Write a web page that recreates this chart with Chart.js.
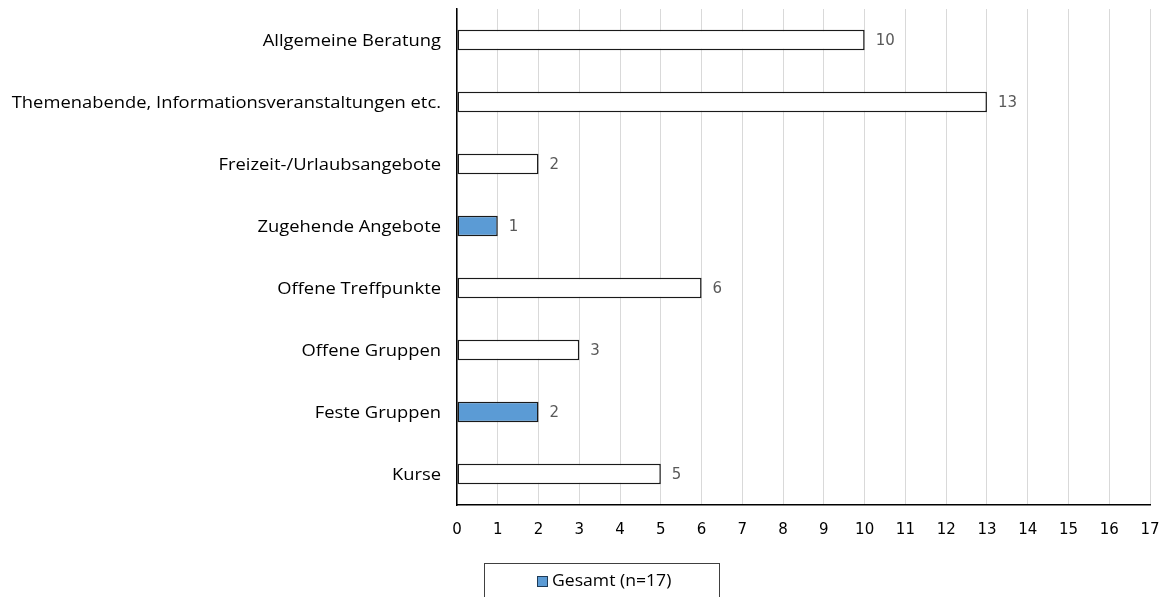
<!DOCTYPE html>
<html>
<head>
<meta charset="utf-8">
<script src="https://cdn.jsdelivr.net/npm/chart.js@4/dist/chart.umd.min.js"></script>
<style>
  html, body { margin: 0; padding: 0; background: #fff; }
  #wrap { position: relative; width: 1162px; height: 597px; overflow: hidden; }
  #legend {
    position: absolute; left: 484px; top: 563px; width: 236px; height: 40px;
    border: 1px solid #404040; box-sizing: border-box;
    font: 16px "Open Sans", sans-serif; color: #000;
    padding: 5px 0 0 52px; white-space: nowrap;
  }
  #legend .sw { display: inline-block; width: 11px; height: 11px; background: #5B9BD5;
    border: 1px solid #1f3b57; margin-right: 4px; box-sizing: border-box; vertical-align: -1px; }
  #legend .tx { display: inline-block; transform: scaleX(1.1); transform-origin: left center; }
</style>
</head>
<body>
<div id="wrap">
  <canvas id="c" width="1162" height="597"></canvas>
  <div id="legend"><span class="sw"></span><span class="tx" id="legendText"></span></div>
</div>
<script>
// Angebotsformen und Anzahl der Nennungen
const categories = [
  "Allgemeine Beratung",
  "Themenabende, Informationsveranstaltungen etc.",
  "Freizeit-/Urlaubsangebote",
  "Zugehende Angebote",
  "Offene Treffpunkte",
  "Offene Gruppen",
  "Feste Gruppen",
  "Kurse"
];
const values = [10, 13, 2, 1, 6, 3, 2, 5];
const seriesName = "Gesamt (n=17)";
const xTicks = [0, 1, 2, 3, 4, 5, 6, 7, 8, 9, 10, 11, 12, 13, 14, 15, 16, 17];
// categories shown with the series fill; the rest are drawn hollow
const filledCategories = ["Zugehende Angebote", "Feste Gruppen"];

document.getElementById("legendText").textContent = seriesName;

const LABEL_FONT = "17px 'Open Sans', sans-serif";
const NUM_FONT = "15px 'DejaVu Sans', sans-serif";

// text drawn slightly widened horizontally
function drawWide(ctx, text, x, y, align, sx) {
  ctx.save();
  ctx.translate(x, y);
  ctx.scale(sx, 1);
  ctx.textAlign = align;
  ctx.textBaseline = "middle";
  ctx.fillText(text, 0, 0);
  ctx.restore();
}

const labelsPlugin = {
  id: "labelsPlugin",
  afterDraw(chart) {
    const ctx = chart.ctx;
    const yScale = chart.scales.y;
    const xScale = chart.scales.x;
    const area = chart.chartArea;

    // category names, right-aligned against the axis
    ctx.save();
    ctx.font = LABEL_FONT;
    ctx.fillStyle = "#000";
    chart.data.labels.forEach((lab, i) => {
      drawWide(ctx, lab, area.left - 16, yScale.getPixelForValue(i) + 1, "right", 1.08);
    });
    ctx.restore();

    // value axis numbers
    ctx.save();
    ctx.font = NUM_FONT;
    ctx.fillStyle = "#000";
    xTicks.forEach((v) => {
      drawWide(ctx, String(v), xScale.getPixelForValue(v), area.bottom + 25, "center", 1);
    });
    ctx.restore();

    // bar values
    ctx.save();
    ctx.font = NUM_FONT;
    ctx.fillStyle = "#595959";
    const meta = chart.getDatasetMeta(0);
    meta.data.forEach((bar, i) => {
      drawWide(ctx, String(chart.data.datasets[0].data[i]), bar.x + 11, bar.y + 1, "left", 1);
    });
    ctx.restore();
  }
};

new Chart(document.getElementById("c"), {
  type: "bar",
  data: {
    labels: categories,
    datasets: [{
      label: seriesName,
      data: values,
      backgroundColor: (c) => filledCategories.includes(categories[c.dataIndex]) ? "#5B9BD5" : "#ffffff",
      borderColor: "#1a1a1a",
      borderWidth: 1.5,
      borderSkipped: false,
      barPercentage: 0.66,
      categoryPercentage: 0.5
    }]
  },
  options: {
    indexAxis: "y",
    responsive: false,
    animation: false,
    layout: { padding: { top: 9, right: 12, left: 0, bottom: 0 } },
    plugins: { legend: { display: false }, tooltip: { enabled: false } },
    scales: {
      x: {
        min: 0, max: 17,
        afterBuildTicks: (s) => { s.ticks = xTicks.map(v => ({ value: v })); },
        afterFit: (s) => { s.height = 92; },
        grid: { color: "#d9d9d9", lineWidth: 1, drawTicks: false },
        border: { color: "#000", width: 1.5 },
        ticks: { display: false }
      },
      y: {
        afterFit: (s) => { s.width = 457; },
        grid: { display: false, drawTicks: false },
        border: { color: "#000", width: 1.5 },
        ticks: { display: false }
      }
    }
  },
  plugins: [labelsPlugin]
});
</script>
</body>
</html>
